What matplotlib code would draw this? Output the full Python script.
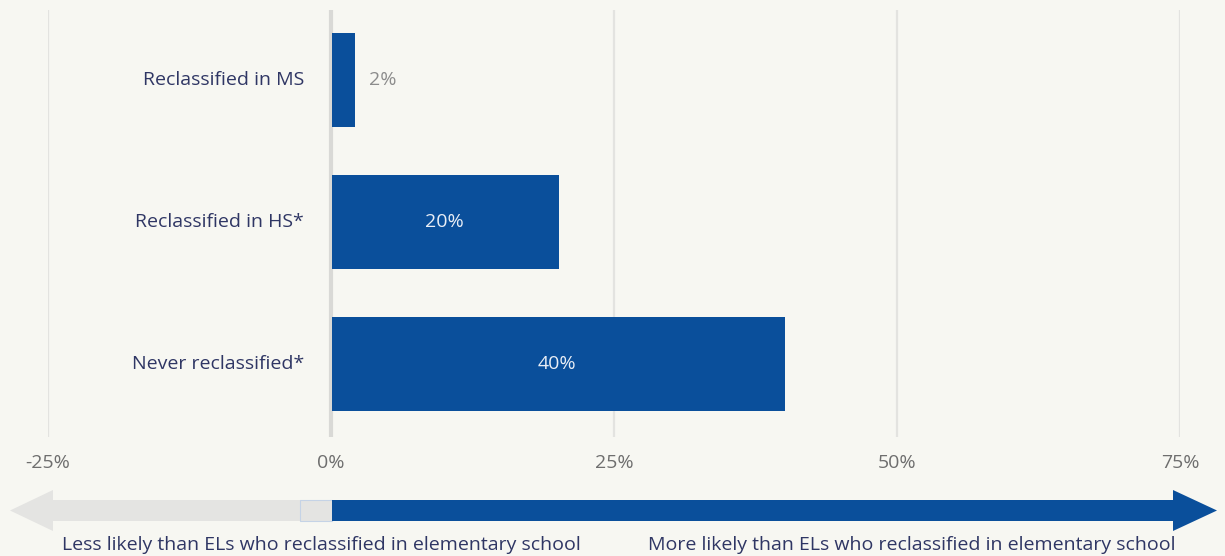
import matplotlib
matplotlib.use("Agg")
import matplotlib.pyplot as plt
from matplotlib.patches import FancyArrow

categories = ["Reclassified in MS", "Reclassified in HS*", "Never reclassified*"]
values = [2, 20, 40]
value_labels = ["2%", "20%", "40%"]
xticks = [-25, 0, 25, 50, 75]
xtick_labels = ["-25%", "0%", "25%", "50%", "75%"]
left_note = "Less likely than ELs who reclassified in elementary school"
right_note = "More likely than ELs who reclassified in elementary school"

BG = "#f7f7f2"
BLUE = "#0a4f9b"
NAVY = "#2f3664"
FONT = ["Open Sans", "DejaVu Sans"]
FS = 14
plt.rcParams['font.family'] = FONT

W, H = 1225, 556
fig = plt.figure(figsize=(W / 100, H / 100), dpi=100, facecolor=BG)
ax = fig.add_axes([48 / W, 1 - 437 / H, (1180 - 48) / W, (437 - 10) / H])
ax.set_facecolor(BG)
ax.set_xlim(-25, 75)
ax.set_ylim(2.514, -0.493)

for t in xticks:
    if t == 0:
        ax.axvline(t, color="#d9d9d6", lw=3, zorder=1)
    else:
        ax.axvline(t, color="#e3e3e0", lw=1.6, zorder=1)

ypos = list(range(len(categories)))
ax.barh(ypos, values, height=0.66, color=BLUE, zorder=3, left=0.1)

for y, v, lab in zip(ypos, values, value_labels):
    if v < 5:
        ax.text(v + 1.4, y, lab, ha="left", va="center", fontsize=FS, color="#8c8c8c")
    else:
        ax.text(v / 2, y, lab, ha="center", va="center", fontsize=FS, color="#e9eef6", zorder=4)
    ax.text(-2.4, y, categories[y], ha="right", va="center", fontsize=FS, color=NAVY)

ax.set_yticks([])
ax.set_xticks(xticks)
ax.set_xticklabels(xtick_labels, fontsize=FS, color="#6e6e6e")
ax.tick_params(axis="x", length=0, pad=12)
for s in ax.spines.values():
    s.set_visible(False)

# arrows in figure pixel coords
arr = fig.add_axes([0, 0, 1, 1], facecolor="none")
arr.set_xlim(0, W)
arr.set_ylim(H, 0)
arr.axis("off")
yc = 510.5
arr.add_patch(FancyArrow(332, yc, 10 - 332, 0, width=21, head_width=41, head_length=43,
                         length_includes_head=True, color="#e4e4e2", lw=0))
arr.add_patch(plt.Rectangle((300, yc - 10.5), 32, 21, facecolor="#e4e4e2", edgecolor="#c5d3e6", lw=0.8))
arr.add_patch(FancyArrow(332, yc, 1217 - 332, 0, width=21, head_width=41, head_length=44,
                         length_includes_head=True, color=BLUE, lw=0))
arr.text(62, 545, left_note, ha="left", va="center", fontsize=FS, color=NAVY)
arr.text(1176, 545, right_note, ha="right", va="center", fontsize=FS, color=NAVY)

fig.savefig("out.png", dpi=100, facecolor=BG)
